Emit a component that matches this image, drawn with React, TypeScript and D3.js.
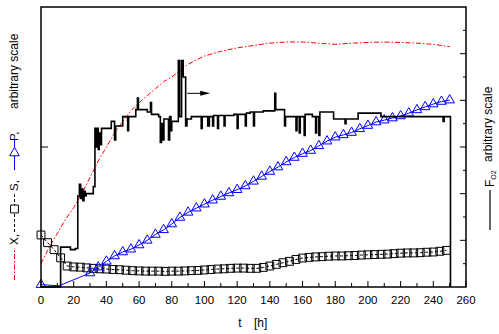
import * as d3 from 'd3';

// time axis ticks
const xMajorTicks = [0, 20, 40, 60, 80, 100, 120, 140, 160, 180, 200, 220, 240, 260];
const xMinorTicks = [10, 30, 50, 70, 90, 110, 130, 150, 170, 190, 210, 230, 250];
const leftTicks = [6];
const rightTicks = [1, 2, 3, 4, 5, 6, 7, 8, 9, 10, 11];

// X (biomass), red dash-dot
const xTime = [0, 5, 10, 15, 20, 25, 30, 35, 40, 45, 50, 55, 60, 65, 70, 75, 80, 90, 100, 110, 120, 130, 140, 150, 160, 170, 180, 190, 200, 210, 220, 230, 240, 250];
const xValue = [1.0, 1.7, 2.3, 2.9, 3.4, 4.0, 4.7, 5.4, 6.0, 6.6, 7.1, 7.55, 7.9, 8.2, 8.5, 8.8, 9.0, 9.55, 9.9, 10.1, 10.25, 10.35, 10.45, 10.5, 10.5, 10.45, 10.4, 10.45, 10.48, 10.5, 10.48, 10.45, 10.4, 10.3];

// S (substrate), black dashed with squares
const sTime = [0, 4, 8, 12, 16, 20, 24, 28, 32, 36, 40, 44, 48, 52, 56, 60, 64, 68, 72, 76, 80, 84, 88, 92, 96, 100, 104, 108, 112, 116, 120, 124, 128, 132, 136, 140, 144, 148, 152, 156, 160, 164, 168, 172, 176, 180, 184, 188, 192, 196, 200, 204, 208, 212, 216, 220, 224, 228, 232, 236, 240, 244, 248];
const sValue = [2.23, 1.9, 1.6, 1.25, 0.9, 0.86, 0.85, 0.82, 0.8, 0.78, 0.77, 0.75, 0.74, 0.72, 0.7, 0.69, 0.68, 0.68, 0.68, 0.67, 0.68, 0.68, 0.69, 0.7, 0.71, 0.73, 0.75, 0.77, 0.78, 0.8, 0.81, 0.81, 0.8, 0.8, 0.84, 0.9, 0.97, 1.04, 1.1, 1.18, 1.24, 1.27, 1.29, 1.3, 1.32, 1.33, 1.33, 1.34, 1.35, 1.37, 1.38, 1.39, 1.4, 1.41, 1.43, 1.45, 1.46, 1.46, 1.47, 1.49, 1.5, 1.53, 1.57];

// P (product), blue with triangles (no marker at t=11)
const pTime = [0, 11, 30, 35, 40, 45, 50, 55, 60, 65, 70, 75, 80, 85, 90, 95, 100, 105, 110, 115, 120, 125, 130, 135, 140, 145, 150, 155, 160, 165, 170, 175, 180, 185, 190, 195, 200, 205, 210, 215, 220, 225, 230, 235, 240, 245, 250];
const pValue = [0.1, 0.05, 0.6, 0.85, 1.1, 1.33, 1.5, 1.62, 1.8, 2.0, 2.25, 2.45, 2.7, 2.98, 3.2, 3.38, 3.55, 3.72, 3.88, 4.03, 4.17, 4.33, 4.53, 4.74, 4.95, 5.14, 5.36, 5.55, 5.72, 5.85, 6.05, 6.25, 6.42, 6.52, 6.62, 6.78, 6.92, 7.07, 7.15, 7.24, 7.33, 7.45, 7.59, 7.72, 7.84, 7.95, 8.01];
const pNoMarker = [1];

// F_O2 (right axis), black step line
const fTime = [0, 12, 18, 21, 22.5, 23.5, 24.3, 25, 25.6, 26.3, 27, 27.6, 29, 32, 33, 33.7, 34.3, 35, 35.6, 36.3, 37, 43, 45, 45.7, 47, 50, 53, 53.6, 55, 58, 59, 59.6, 60, 65, 67, 67.6, 68, 72, 73, 73.7, 74.5, 75.2, 76, 78, 78.7, 79.5, 80, 80.8, 82, 84, 84.8, 86, 87, 88.5, 89.3, 90, 92, 98, 98.6, 102, 103, 105, 105.6, 108, 108.6, 112, 112.6, 118, 120, 120.6, 125, 125.6, 128, 130, 130.6, 136, 143, 143.6, 149, 149.6, 153, 156, 156.6, 158, 158.6, 161, 161.6, 166, 168, 168.6, 170, 170.6, 179, 186, 186.6, 194, 208, 246, 246.6, 250, 250.5];
const fValue = [0, 1.71, 1.6, 1.65, 3.9, 4.4, 3.8, 4.2, 3.7, 4.1, 3.9, 4.0, 4.0, 4.3, 6.8, 6.0, 6.8, 5.9, 6.6, 6.1, 6.8, 7.1, 6.3, 6.9, 6.9, 7.3, 6.7, 7.3, 7.3, 7.6, 8.1, 7.6, 7.6, 7.5, 7.9, 7.4, 7.4, 7.3, 6.2, 7.0, 6.3, 7.2, 7.2, 6.3, 7.3, 6.7, 7.1, 7.1, 7.1, 9.7, 7.3, 9.7, 9.0, 6.9, 7.2, 7.2, 7.3, 6.8, 7.3, 6.9, 7.3, 6.9, 7.35, 6.8, 7.35, 6.9, 7.35, 7.4, 6.8, 7.4, 6.9, 7.45, 7.5, 6.9, 7.5, 7.55, 8.3, 7.6, 6.9, 7.3, 7.3, 6.7, 7.3, 6.6, 7.3, 6.5, 7.4, 7.3, 6.6, 7.3, 6.5, 7.5, 7.2, 7.0, 7.2, 7.45, 7.3, 7.1, 7.3, 7.3, 0];

// arrow pointing to right axis
const arrowFrom = 89.5;
const arrowTo = 103.5;
const arrowLevel = 8.3;

const W = 499;
const H = 334;
const font = 'Arial, "Liberation Sans", sans-serif';

export default function App() {
  const x = d3.scaleLinear().domain([0, 260]).range([41, 466]);
  const y = d3.scaleLinear().domain([0, 12]).range([287, 7]);

  const pts = (ts: number[], vs: number[]) => ts.map((t, i) => [t, vs[i]] as [number, number]);

  const line = d3.line<[number, number]>().x(d => x(d[0])).y(d => y(d[1]));
  const stepLine = d3.line<[number, number]>().x(d => x(d[0])).y(d => y(d[1])).curve(d3.curveStepAfter);

  const tri = d3.symbol().type(d3.symbolTriangle).size(40)();
  const sq = d3.symbol().type(d3.symbolSquare).size(62)();

  const [x0, x1] = x.range();
  const [y0, y1] = y.range();

  return (
    <svg width={W} height={H} style={{ position: 'absolute', left: 0, top: 0 }} fontFamily={font}>
      <rect width={W} height={H} fill="#fff" />

      {/* series */}
      <path d={line(pts(xTime, xValue)) || ''} fill="none" stroke="#ff0000" strokeWidth={1} strokeDasharray="5,2,1.5,2" />
      <path d={line(pts(sTime, sValue)) || ''} fill="none" stroke="#000" strokeWidth={1} strokeDasharray="3,2" />
      {sTime.map((t, i) => (
        <path key={'s' + i} d={sq} transform={`translate(${x(t)},${y(sValue[i])})`} fill="none" stroke="#000" strokeWidth={1} />
      ))}
      <path d={line(pts(pTime, pValue)) || ''} fill="none" stroke="#0000ff" strokeWidth={1} />
      {pTime.map((t, i) => pNoMarker.includes(i) ? null : (
        <path key={'p' + i} d={tri} transform={`translate(${x(t)},${y(pValue[i])})`} fill="none" stroke="#0000ff" strokeWidth={1} />
      ))}
      <path d={stepLine(pts(fTime, fValue)) || ''} fill="none" stroke="#000" strokeWidth={1.6} />

      {/* arrow */}
      <line x1={x(arrowFrom)} x2={x(arrowTo) - 8} y1={y(arrowLevel)} y2={y(arrowLevel)} stroke="#000" strokeWidth={1} />
      <path d={`M${x(arrowTo)},${y(arrowLevel)}L${x(arrowTo) - 10},${y(arrowLevel) - 2.5}L${x(arrowTo) - 10},${y(arrowLevel) + 2.5}Z`} fill="#000" />

      {/* frame */}
      <rect x={x0} y={y1} width={x1 - x0} height={y0 - y1} fill="none" stroke="#000" strokeWidth={1.5} />

      {/* bottom ticks */}
      {xMajorTicks.map(t => (
        <g key={'xt' + t}>
          <line x1={x(t)} x2={x(t)} y1={y0} y2={y0 - 6} stroke="#000" />
          <text x={x(t)} y={y0 + 17} textAnchor="middle" fontSize={11.5}>{t}</text>
        </g>
      ))}
      {xMinorTicks.map(t => (
        <line key={'xm' + t} x1={x(t)} x2={x(t)} y1={y0} y2={y0 - 4} stroke="#000" />
      ))}
      <text x={240} y={327} fontSize={12} textAnchor="middle">t</text>
      <text x={254} y={327} fontSize={12}>[h]</text>

      {/* left ticks */}
      {leftTicks.map(v => (
        <line key={'lt' + v} x1={x0} x2={x0 + 7} y1={y(v)} y2={y(v)} stroke="#000" />
      ))}
      {/* right ticks */}
      {rightTicks.map(v => (
        <line key={'rt' + v} x1={x1} x2={x1 - (v % 2 === 0 ? 6 : 3)} y1={y(v)} y2={y(v)} stroke="#000" />
      ))}

      {/* left label with legend symbols */}
      <g transform="translate(18,285) rotate(-90)">
        <line x1={5} x2={37} y1={-3.5} y2={-3.5} stroke="#ff0000" strokeDasharray="5,2,1.5,2" />
        <text x={40} y={0} fontSize={11.5}>X,</text>
        <line x1={53} x2={92} y1={-3.5} y2={-3.5} stroke="#000" strokeDasharray="3,2" />
        <path d={sq} transform="translate(76,-3.5)" fill="#fff" stroke="#000" />
        <text x={94} y={0} fontSize={11.5}>S,</text>
        <line x1={115} x2={146} y1={-3.5} y2={-3.5} stroke="#0000ff" />
        <path d={tri} transform="translate(132,-3.5) rotate(90)" fill="#fff" stroke="#0000ff" />
        <text x={144} y={0} fontSize={11.5}>P,</text>
        <text x={176} y={0} fontSize={12}>arbitrary scale</text>
      </g>

      {/* right label */}
      <g transform="translate(494,287) rotate(-90)">
        <line x1={57} x2={97} y1={-4} y2={-4} stroke="#000" strokeWidth={1.2} />
        <text x={100} y={0} fontSize={12}>F<tspan fontSize={7} dy={2}>O2</tspan></text>
        <text x={125} y={-2} fontSize={12}>arbitrary scale</text>
      </g>
    </svg>
  );
}
